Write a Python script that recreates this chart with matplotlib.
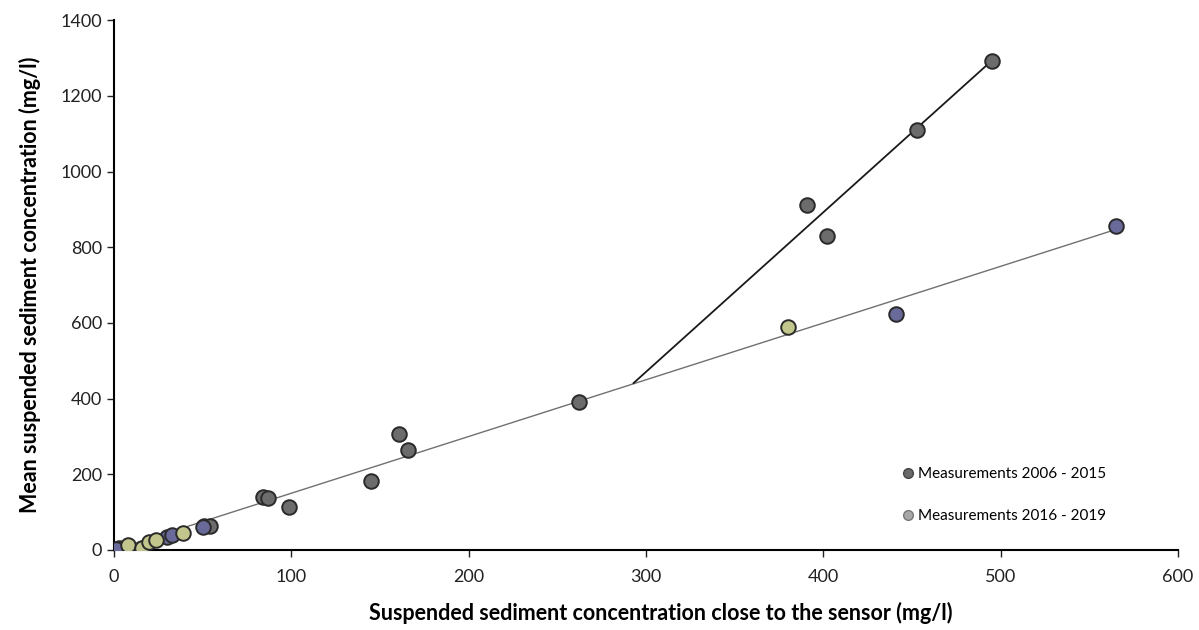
import matplotlib.pyplot as plt
from matplotlib.lines import Line2D

plt.rcParams['font.family'] = ['Lato', 'DejaVu Sans']

# measurements 2006 - 2015 (gray markers)
gray_x = [495, 453, 391, 402, 262, 161, 166, 145, 99, 84, 87, 51, 54, 3]
gray_y = [1293, 1110, 911, 829, 392, 307, 265, 183, 114, 140, 137, 64, 64, 6]
# measurements 2006 - 2015 (blue-ish markers)
blue_x = [565, 441, 30, 33, 1, 50]
blue_y = [855, 623, 34, 40, 2, 62]
# measurements 2016 - 2019
yel_x = [380, 8, 16, 20, 24, 39]
yel_y = [589, 13, 6, 21, 26, 45]

# regression lines
fit_low_x = [0, 567]
fit_low_y = [0, 850]
fit_high_x = [293, 495]
fit_high_y = [441, 1293]

fig = plt.figure(figsize=(11.99, 6.30), dpi=100)
ax = fig.add_axes([0.095, 0.127, 0.8875, 0.841])

ax.plot(fit_low_x, fit_low_y, color='#707070', lw=1.0, zorder=1)
ax.plot(fit_high_x, fit_high_y, color='#1a1a1a', lw=1.3, zorder=1)

kw = dict(s=110, edgecolors='#2a2a2a', linewidths=1.4, zorder=3)
ax.scatter(gray_x, gray_y, c='#6c6c6c', **kw)
ax.scatter(blue_x, blue_y, c='#6a6a9a', **kw)
ax.scatter(yel_x, yel_y, c='#c2c68c', **kw)

ax.set_xlim(0, 600)
ax.set_ylim(0, 1400)
ax.set_xticks(range(0, 601, 100))
ax.set_yticks(range(0, 1401, 200))
ax.spines['top'].set_visible(False)
ax.spines['right'].set_visible(False)
ax.spines['left'].set_linewidth(1.5)
ax.spines['bottom'].set_linewidth(1.5)
ax.tick_params(direction='out', length=5, width=1, labelsize=13, colors='#222222')
ax.tick_params(axis='x', pad=9)

ax.set_xlabel('Suspended sediment concentration close to the sensor (mg/l)',
              fontsize=15.5, fontweight='bold', labelpad=12)
ax.xaxis.set_label_coords(0.514, -0.098)
ax.set_ylabel('Mean suspended sediment concentration (mg/l)',
              fontsize=15.5, fontweight='bold', labelpad=14)

handles = [
    Line2D([], [], marker='o', ls='', markersize=7, markerfacecolor='#6a6a6a',
           markeredgecolor='#444444', label='Measurements 2006 - 2015'),
    Line2D([], [], marker='o', ls='', markersize=7, markerfacecolor='#a8a8a8',
           markeredgecolor='#777777', label='Measurements 2016 - 2019'),
]
ax.legend(handles=handles, loc='lower right', bbox_to_anchor=(0.945, 0.025),
          frameon=False, fontsize=11, handletextpad=0.1, labelspacing=1.8,
          handlelength=1.0)

fig.savefig('out.png', dpi=100)
